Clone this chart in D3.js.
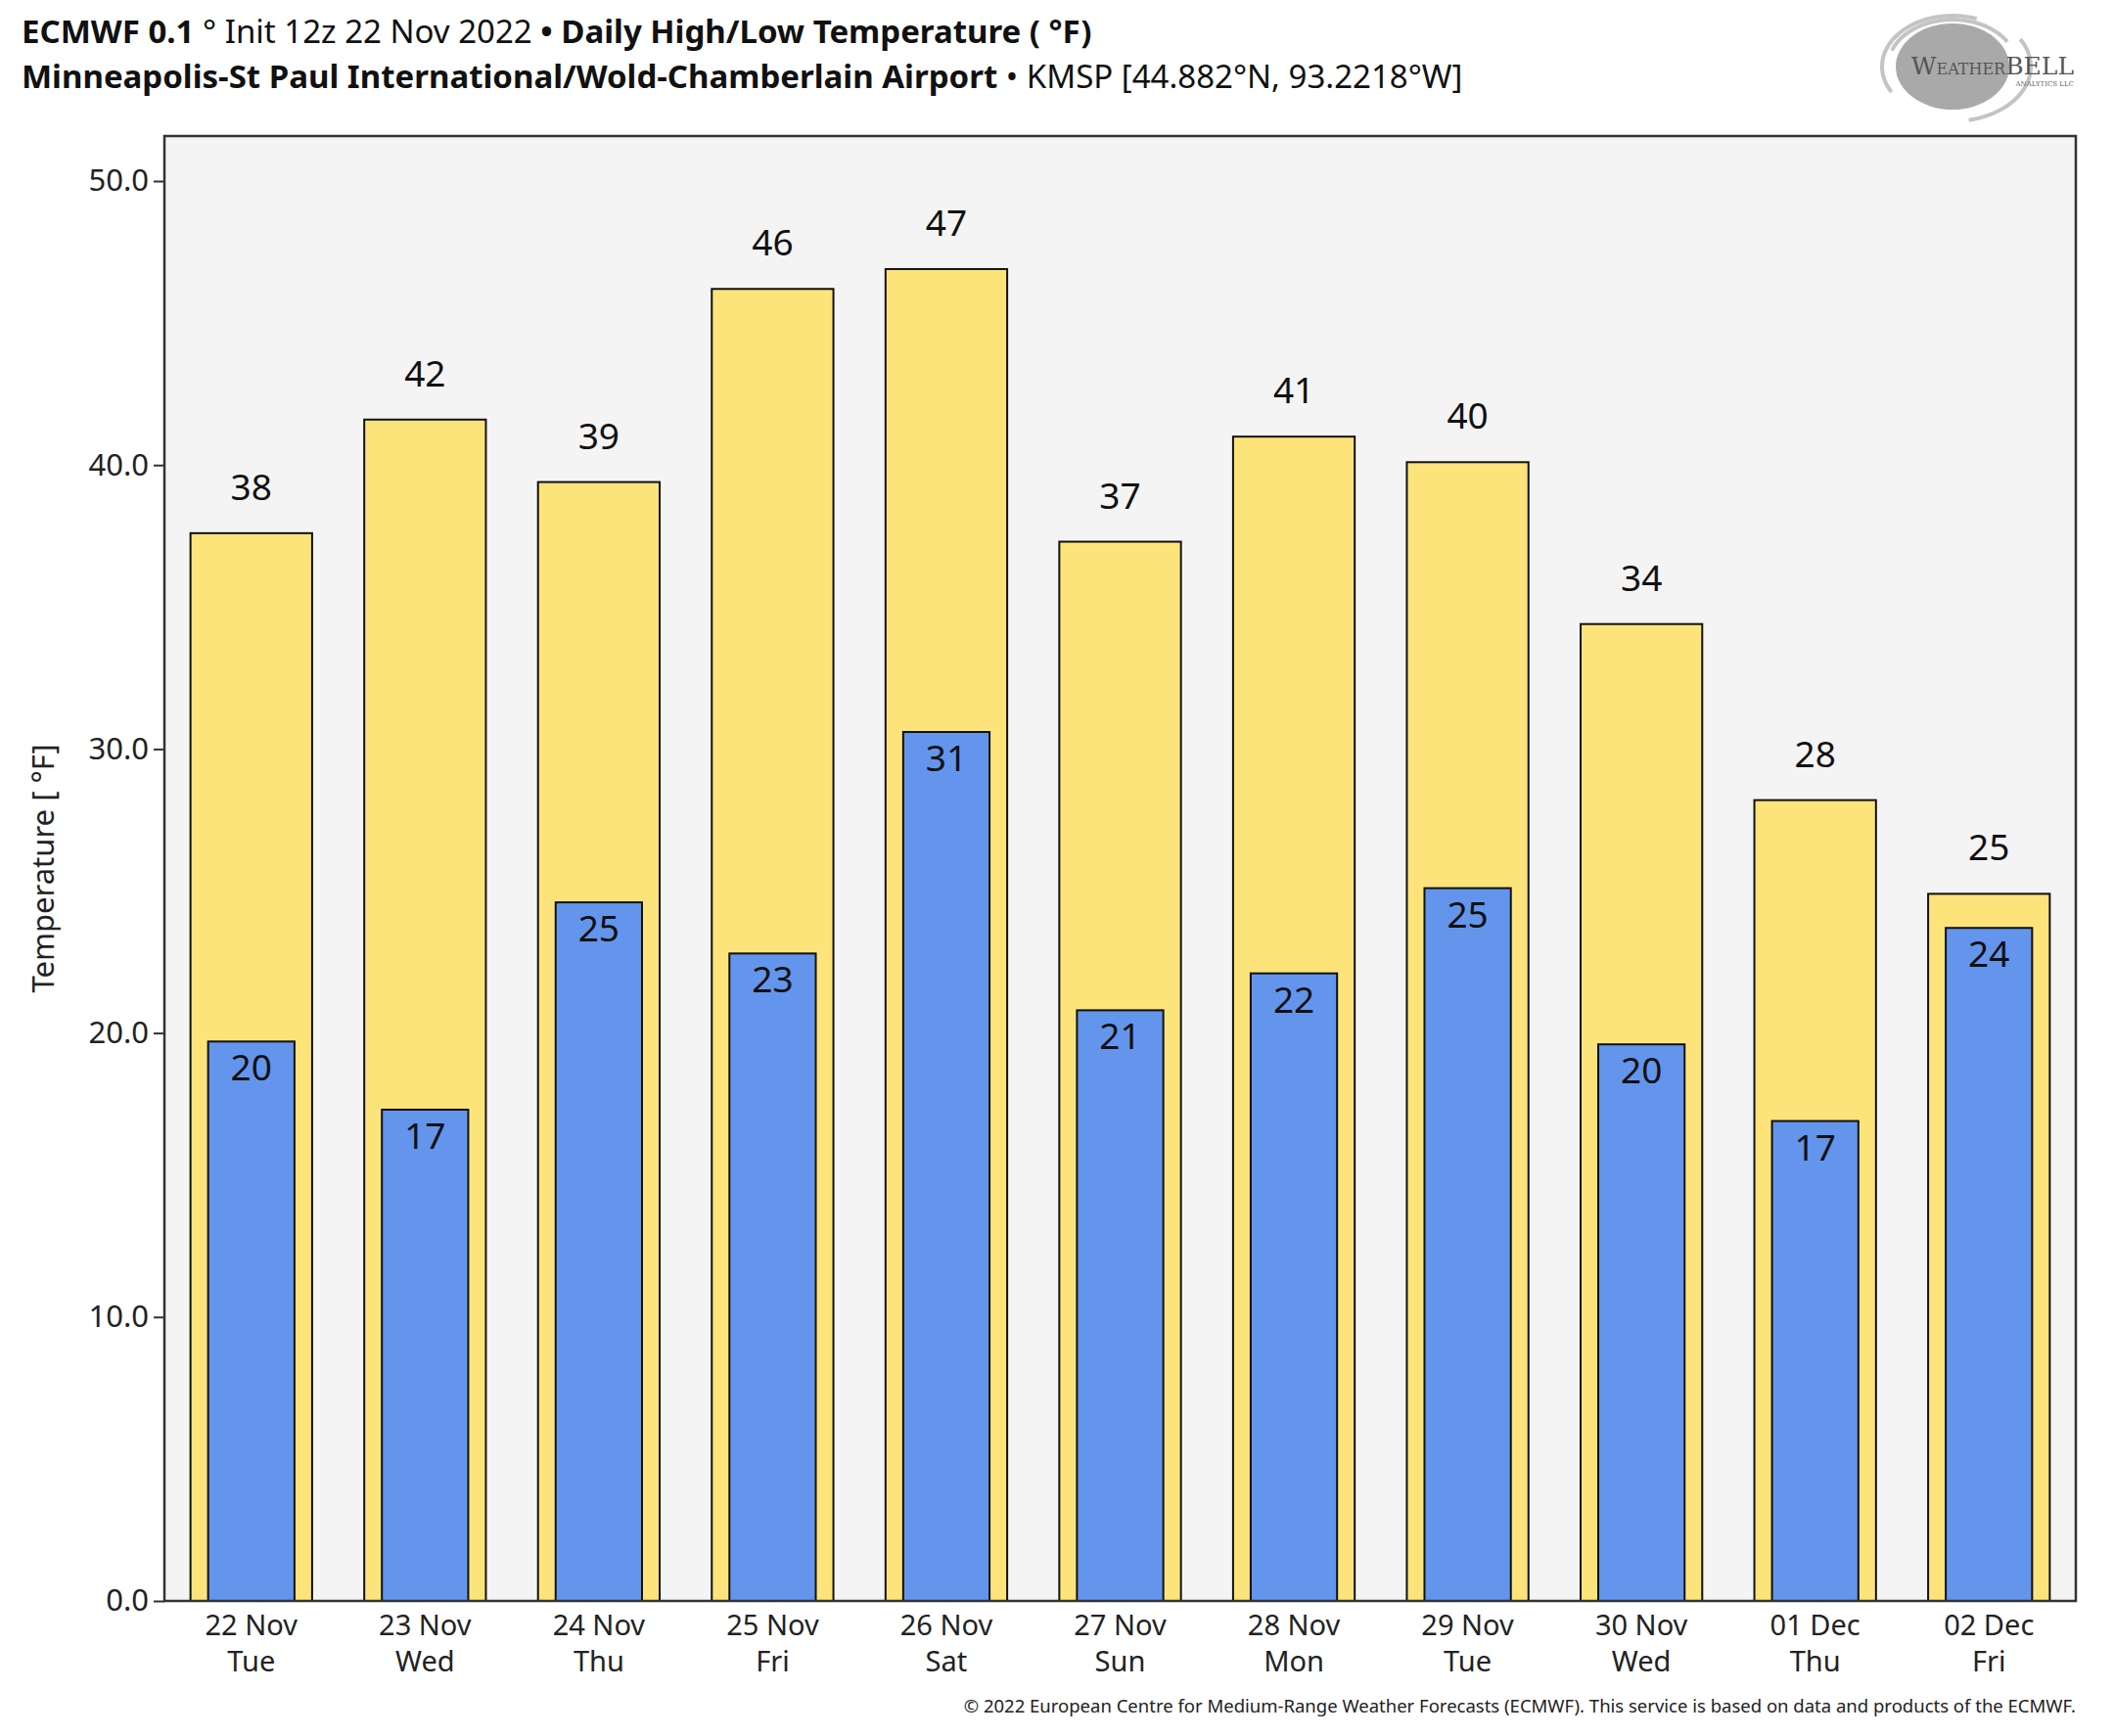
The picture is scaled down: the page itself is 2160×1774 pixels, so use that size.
<!DOCTYPE html>
<html>
<head>
<meta charset="utf-8">
<script src="https://cdn.jsdelivr.net/npm/d3@7"></script>
<style>
  html, body { margin: 0; padding: 0; background: #fff; }
  svg { display: block; font-family: "Noto Sans", "Open Sans", sans-serif; }
</style>
</head>
<body>
<svg id="chart" width="2160" height="1774"></svg>
<script>
// daily values
const dates = ["22 Nov", "23 Nov", "24 Nov", "25 Nov", "26 Nov", "27 Nov", "28 Nov", "29 Nov", "30 Nov", "01 Dec", "02 Dec"];
const weekdays = ["Tue", "Wed", "Thu", "Fri", "Sat", "Sun", "Mon", "Tue", "Wed", "Thu", "Fri"];
const highs = [37.6, 41.6, 39.4, 46.2, 46.9, 37.3, 41.0, 40.1, 34.4, 28.2, 24.9];
const lows = [19.7, 17.3, 24.6, 22.8, 30.6, 20.8, 22.1, 25.1, 19.6, 16.9, 23.7];
const yTicks = [0, 10, 20, 30, 40, 50];

const margin = { top: 139, right: 39, bottom: 138, left: 168 };
const W = 2160, H = 1774;
const width = W - margin.left - margin.right;
const height = H - margin.top - margin.bottom;

const svg = d3.select("#chart");

// title lines
const t1 = svg.append("text").attr("x", 22).attr("y", 44).attr("font-size", 33).attr("fill", "#111");
t1.append("tspan").attr("font-weight", "bold").text("ECMWF 0.1");
t1.append("tspan").text(" ° Init 12z 22 Nov 2022 ");
t1.append("tspan").attr("font-weight", "bold").text("• Daily High/Low Temperature ( °F)");

const t2 = svg.append("text").attr("x", 22).attr("y", 90).attr("font-size", 33).attr("fill", "#111");
t2.append("tspan").attr("font-weight", "bold").text("Minneapolis-St Paul International/Wold-Chamberlain Airport");
t2.append("tspan").text(" • KMSP [44.882°N, 93.2218°W]");

// logo (rough)
const logo = svg.append("g");
logo.append("ellipse").attr("cx", 1995).attr("cy", 68).attr("rx", 58).attr("ry", 44).attr("fill", "#a9a9a9");
[[72, 52, 150, 290], [80, 56, 330, 440], [66, 48, 200, 330]].forEach(([rx, ry, a0, a1]) => {
  const pts = d3.range(a0, a1 + 1, 4).map(a => [1995 + rx * Math.cos(a * Math.PI / 180), 68 + ry * Math.sin(a * Math.PI / 180)]);
  logo.append("path").attr("d", d3.line()(pts)).attr("fill", "none")
    .attr("stroke", "#c4c4c4").attr("stroke-width", 4);
});
const lt = logo.append("text").attr("x", 2119).attr("y", 76).attr("text-anchor", "end")
  .attr("font-family", "DejaVu Serif, serif").attr("fill", "#555");
lt.append("tspan").attr("font-size", 25).text("W");
lt.append("tspan").attr("font-size", 16).text("EATHER");
lt.append("tspan").attr("font-size", 25).text("BELL");
logo.append("text").attr("x", 2119).attr("y", 88).attr("text-anchor", "end").attr("font-family", "DejaVu Serif, serif")
  .attr("font-size", 7).attr("fill", "#666").text("ANALYTICS LLC");

const g = svg.append("g").attr("transform", `translate(${margin.left},${margin.top})`);

const x = d3.scaleBand().domain(dates).range([0, width]).paddingInner(0.3).paddingOuter(0.15);
const y = d3.scaleLinear().domain([0, 50]).range([height, height - 50 * 29.02]);

g.append("rect").attr("width", width).attr("height", height).attr("fill", "#f4f4f4");

// high bars
g.selectAll(".hi").data(highs).enter().append("rect")
  .attr("class", "hi")
  .attr("x", (d, i) => x(dates[i]))
  .attr("y", d => y(d))
  .attr("width", x.bandwidth())
  .attr("height", d => y(0) - y(d))
  .attr("fill", "#fde47a").attr("stroke", "#111").attr("stroke-width", 2);

const lw = x.bandwidth() * 0.71;
g.selectAll(".lo").data(lows).enter().append("rect")
  .attr("class", "lo")
  .attr("x", (d, i) => x(dates[i]) + (x.bandwidth() - lw) / 2)
  .attr("y", d => y(d))
  .attr("width", lw)
  .attr("height", d => y(0) - y(d))
  .attr("fill", "#6495ed").attr("stroke", "#111").attr("stroke-width", 2);

g.selectAll(".hiLab").data(highs).enter().append("text")
  .attr("x", (d, i) => x(dates[i]) + x.bandwidth() / 2)
  .attr("y", d => y(d) - 34)
  .attr("text-anchor", "middle").attr("font-size", 37).attr("fill", "#111")
  .text(d => Math.round(d));

g.selectAll(".loLab").data(lows).enter().append("text")
  .attr("x", (d, i) => x(dates[i]) + x.bandwidth() / 2)
  .attr("y", d => y(d) + 40)
  .attr("text-anchor", "middle").attr("font-size", 37).attr("fill", "#111")
  .text(d => Math.round(d));

// frame
g.append("rect").attr("width", width).attr("height", height)
  .attr("fill", "none").attr("stroke", "#333").attr("stroke-width", 2.5);

// y axis
const yAxis = g.append("g").call(d3.axisLeft(y).tickValues(yTicks).tickFormat(d3.format(".1f")).tickSize(11).tickSizeOuter(0));
yAxis.select(".domain").remove();
yAxis.selectAll("line").attr("stroke", "#333").attr("stroke-width", 2);
yAxis.selectAll("text").attr("font-size", 31).attr("fill", "#222").attr("font-family", "Noto Sans").attr("dx", -2);

// x axis labels, date and weekday as two separate texts
const xl = g.append("g").attr("transform", `translate(0,${height})`);
dates.forEach((d, i) => {
  const cx = x(d) + x.bandwidth() / 2;
  xl.append("text").attr("x", cx).attr("y", 35).attr("text-anchor", "middle")
    .attr("font-size", 29).attr("fill", "#222").text(d);
  xl.append("text").attr("x", cx).attr("y", 72).attr("text-anchor", "middle")
    .attr("font-size", 29).attr("fill", "#222").text(weekdays[i]);
});

svg.append("text")
  .attr("transform", `translate(55,${margin.top + height / 2}) rotate(-90)`)
  .attr("text-anchor", "middle").attr("font-size", 31).attr("fill", "#222")
  .text("Temperature [ °F]");

svg.append("text").attr("x", 2121).attr("y", 1750).attr("text-anchor", "end")
  .attr("font-size", 18.5).attr("fill", "#222")
  .text("© 2022 European Centre for Medium-Range Weather Forecasts (ECMWF). This service is based on data and products of the ECMWF.");
</script>
</body>
</html>
